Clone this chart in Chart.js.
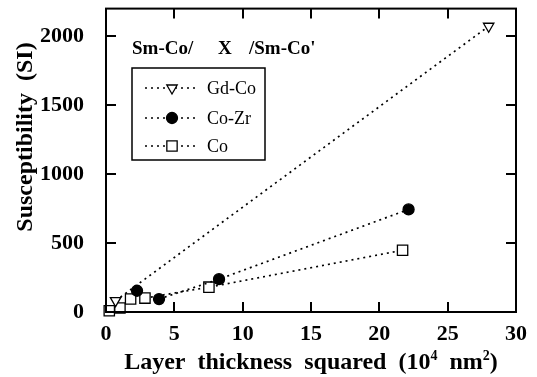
<!DOCTYPE html>
<html>
<head>
<meta charset="utf-8">
<script src="https://cdn.jsdelivr.net/npm/chart.js@4/dist/chart.umd.min.js"></script>
<style>
  html, body { margin: 0; padding: 0; background: #fff; }
  #wrap { width: 537px; height: 377px; }
</style>
</head>
<body>
<div id="wrap"><canvas id="c" width="537" height="377"></canvas></div>
<script>
// Series: susceptibility (SI) versus layer thickness squared (10^4 nm^2)
const seriesNames = ['Gd-Co', 'Co-Zr', 'Co'];
const gdCoX = [0.7, 28.0];
const gdCoY = [82, 2072];
const coZrX = [2.27, 3.88, 8.27, 22.14];
const coZrY = [154, 94, 238, 744];
const coX = [0.24, 1.02, 1.8, 2.85, 7.53, 21.7];
const coY = [9, 29, 94, 101, 180, 448];
// index of the first point from which each dotted guide line is drawn
const lineFrom = [0, 1, 3];

const xTicks = [0, 5, 10, 15, 20, 25, 30];
const yTicks = [0, 500, 1000, 1500, 2000];
const xRange = [0, 30];
const yRange = [0, 2200];

// heading pieces with their left offsets
const titleParts = [['Sm-Co/', 132], ['X', 218], ["/Sm-Co'", 249]];
const yTitle = 'Susceptibility  (SI)';
const xTitleParts = [['Layer  thickness  squared  (10', false], ['4', true], ['  nm', false], ['2', true], [')', false]];

const SERIF = "'Liberation Serif', 'Times New Roman', serif";

function pts(xs, ys) { return xs.map((x, i) => ({ x: x, y: ys[i] })); }

const styles = [
  { pointStyle: 'triangle', rotation: 180, radius: 6, fill: '#fff' },
  { pointStyle: 'circle', rotation: 0, radius: 5.5, fill: '#000' },
  { pointStyle: 'rect', rotation: 0, radius: 7.3, fill: '#fff' }
];
const seriesData = [pts(gdCoX, gdCoY), pts(coZrX, coZrY), pts(coX, coY)];

const datasets = seriesData.map((d, k) => ({
  label: seriesNames[k],
  data: d,
  showLine: true,
  borderColor: '#000',
  borderWidth: 1.7,
  borderDash: [2, 4],
  segment: {
    borderColor: ctx => ctx.p0DataIndex < lineFrom[k] ? 'rgba(0,0,0,0)' : '#000'
  },
  pointStyle: styles[k].pointStyle,
  rotation: styles[k].rotation,
  pointRadius: styles[k].radius,
  pointBackgroundColor: styles[k].fill,
  pointBorderColor: '#000',
  pointBorderWidth: 1.3,
  clip: false
}));

// frame, inward tick marks on all four sides, titles and the boxed key
const decor = {
  id: 'decor',
  afterDraw(chart) {
    const ctx = chart.ctx;
    const a = chart.chartArea;
    const xs = chart.scales.x, ys = chart.scales.y;
    ctx.save();
    ctx.strokeStyle = '#000';
    ctx.lineWidth = 2;
    ctx.strokeRect(a.left, a.top, a.right - a.left, a.bottom - a.top);
    const tl = 10;
    ctx.beginPath();
    xTicks.forEach(v => {
      const px = Math.round(xs.getPixelForValue(v));
      ctx.moveTo(px, a.bottom); ctx.lineTo(px, a.bottom - tl);
      ctx.moveTo(px, a.top); ctx.lineTo(px, a.top + tl);
    });
    yTicks.forEach(v => {
      const py = Math.round(ys.getPixelForValue(v));
      ctx.moveTo(a.left, py); ctx.lineTo(a.left + tl, py);
      ctx.moveTo(a.right, py); ctx.lineTo(a.right - tl, py);
    });
    ctx.stroke();

    // chart heading inside the plot
    ctx.fillStyle = '#000';
    ctx.font = 'bold 19px ' + SERIF;
    ctx.textAlign = 'left';
    ctx.textBaseline = 'alphabetic';
    titleParts.forEach(p => ctx.fillText(p[0], p[1], 54));

    // y axis title
    ctx.save();
    ctx.translate(26, 137);
    ctx.rotate(-Math.PI / 2);
    ctx.font = 'bold 24px ' + SERIF;
    ctx.textAlign = 'center';
    ctx.textBaseline = 'middle';
    ctx.fillText(yTitle, 0, 0);
    ctx.restore();

    // x axis title with superscripts
    const big = 'bold 24px ' + SERIF, small = 'bold 14px ' + SERIF;
    let total = 0;
    xTitleParts.forEach(p => { ctx.font = p[1] ? small : big; total += ctx.measureText(p[0]).width; });
    let cx = (a.left + a.right) / 2 - total / 2;
    ctx.textAlign = 'left';
    ctx.textBaseline = 'alphabetic';
    xTitleParts.forEach(p => {
      ctx.font = p[1] ? small : big;
      ctx.fillText(p[0], cx, p[1] ? 360 : 369);
      cx += ctx.measureText(p[0]).width;
    });

    // key box
    ctx.lineWidth = 1.5;
    ctx.fillStyle = '#fff';
    ctx.fillRect(132, 68, 133, 92);
    ctx.strokeRect(132, 68, 133, 92);
    const rowY = [88, 118, 146];
    chart.data.datasets.forEach((ds, k) => {
      const y = rowY[k];
      ctx.save();
      ctx.setLineDash([2, 4]);
      ctx.lineWidth = 1.7;
      ctx.beginPath();
      ctx.moveTo(145, y); ctx.lineTo(196, y);
      ctx.stroke();
      ctx.restore();
      ctx.save();
      ctx.fillStyle = ds.pointBackgroundColor;
      ctx.strokeStyle = '#000';
      ctx.lineWidth = ds.pointBorderWidth;
      ctx.beginPath();
      const r = ds.pointRadius;
      if (ds.pointStyle === 'circle') { ctx.arc(172, y, r, 0, Math.PI * 2); }
      else if (ds.pointStyle === 'rect') { const s = r * Math.SQRT1_2; ctx.rect(172 - s, y - s, 2 * s, 2 * s); }
      else { const w = r * Math.sin(Math.PI / 3); ctx.moveTo(172 - w, y - r / 2); ctx.lineTo(172 + w, y - r / 2); ctx.lineTo(172, y + r); ctx.closePath(); }
      ctx.fill(); ctx.stroke();
      ctx.restore();
      ctx.fillStyle = '#000';
      ctx.font = '18px ' + SERIF;
      ctx.textAlign = 'left';
      ctx.textBaseline = 'middle';
      ctx.fillText(ds.label, 207, y + 1);
    });
    ctx.restore();
  }
};

new Chart(document.getElementById('c'), {
  type: 'scatter',
  data: { datasets: datasets },
  plugins: [decor],
  options: {
    responsive: false,
    devicePixelRatio: 1,
    animation: false,
    layout: { padding: { top: 4, right: 21, left: 0, bottom: 0 } },
    plugins: { legend: { display: false }, tooltip: { enabled: false } },
    scales: {
      x: {
        type: 'linear', min: xRange[0], max: xRange[1],
        grid: { display: false, drawTicks: false },
        border: { display: false },
        afterBuildTicks: s => { s.ticks = xTicks.map(v => ({ value: v })); },
        afterFit: s => { s.height = 65; s.paddingLeft = 0; s.paddingRight = 0; },
        ticks: { color: '#000', font: { family: SERIF, size: 22, weight: 'bold' }, padding: 9, maxRotation: 0, autoSkip: false, callback: v => String(v) }
      },
      y: {
        type: 'linear', min: yRange[0], max: yRange[1],
        grid: { display: false, drawTicks: false },
        border: { display: false },
        afterBuildTicks: s => { s.ticks = yTicks.map(v => ({ value: v })); },
        afterFit: s => { s.width = 106; s.paddingTop = 0; s.paddingBottom = 0; },
        ticks: { color: '#000', font: { family: SERIF, size: 22, weight: 'bold' }, padding: 22, autoSkip: false, callback: v => String(v) }
      }
    }
  }
});
</script>
</body>
</html>
